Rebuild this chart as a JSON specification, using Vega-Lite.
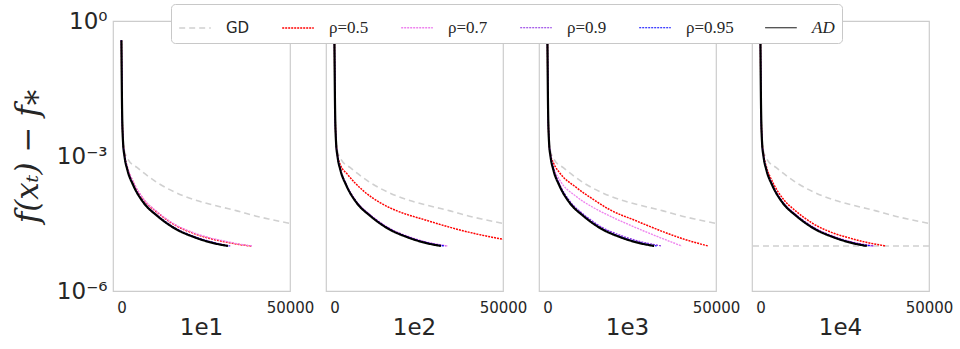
{
  "$schema": "https://vega.github.io/schema/vega-lite/v6.json",
  "padding": {"left": 12, "top": 3, "right": 5, "bottom": 5},
  "background": "white",
  "bounds": "flush",
  "datasets": {
    "d": [
      {"p":"1e1","s":"GD","x":0,"y":0.3715},{"p":"1e1","s":"GD","x":200,"y":0.01},{"p":"1e1","s":"GD","x":500,"y":0.0025},{"p":"1e1","s":"GD","x":800,"y":0.00141},{"p":"1e1","s":"GD","x":2000,"y":0.00083},{"p":"1e1","s":"GD","x":4700,"y":0.00055},{"p":"1e1","s":"GD","x":10600,"y":0.000257},{"p":"1e1","s":"GD","x":18500,"y":0.000129},{"p":"1e1","s":"GD","x":28400,"y":0.0000776},{"p":"1e1","s":"GD","x":34300,"y":0.0000603},{"p":"1e1","s":"GD","x":40000,"y":0.000046},{"p":"1e1","s":"GD","x":45000,"y":0.000038},{"p":"1e1","s":"GD","x":50000,"y":0.0000316},
      {"p":"1e1","s":"ρ=0.5","x":0,"y":0.3715},{"p":"1e1","s":"ρ=0.5","x":200,"y":0.01},{"p":"1e1","s":"ρ=0.5","x":500,"y":0.0021},{"p":"1e1","s":"ρ=0.5","x":900,"y":0.0011},{"p":"1e1","s":"ρ=0.5","x":1800,"y":0.00055},{"p":"1e1","s":"ρ=0.5","x":3500,"y":0.00026},{"p":"1e1","s":"ρ=0.5","x":6700,"y":0.000105},{"p":"1e1","s":"ρ=0.5","x":10600,"y":0.000056},{"p":"1e1","s":"ρ=0.5","x":15600,"y":0.00003},{"p":"1e1","s":"ρ=0.5","x":21500,"y":0.000019},{"p":"1e1","s":"ρ=0.5","x":26500,"y":0.0000145},{"p":"1e1","s":"ρ=0.5","x":31600,"y":0.000012},{"p":"1e1","s":"ρ=0.5","x":35000,"y":0.0000108},{"p":"1e1","s":"ρ=0.5","x":38500,"y":0.00001},
      {"p":"1e1","s":"ρ=0.7","x":0,"y":0.3715},{"p":"1e1","s":"ρ=0.7","x":200,"y":0.01},{"p":"1e1","s":"ρ=0.7","x":500,"y":0.00216},{"p":"1e1","s":"ρ=0.7","x":900,"y":0.00113},{"p":"1e1","s":"ρ=0.7","x":1800,"y":0.000567},{"p":"1e1","s":"ρ=0.7","x":3500,"y":0.000268},{"p":"1e1","s":"ρ=0.7","x":6700,"y":0.000108},{"p":"1e1","s":"ρ=0.7","x":10600,"y":0.0000577},{"p":"1e1","s":"ρ=0.7","x":15600,"y":0.0000309},{"p":"1e1","s":"ρ=0.7","x":21500,"y":0.0000196},{"p":"1e1","s":"ρ=0.7","x":26500,"y":0.000015},{"p":"1e1","s":"ρ=0.7","x":31600,"y":0.0000124},{"p":"1e1","s":"ρ=0.7","x":35000,"y":0.000011},{"p":"1e1","s":"ρ=0.7","x":38800,"y":0.00001},
      {"p":"1e1","s":"ρ=0.9","x":0,"y":0.3715},{"p":"1e1","s":"ρ=0.9","x":200,"y":0.01},{"p":"1e1","s":"ρ=0.9","x":500,"y":0.00198},{"p":"1e1","s":"ρ=0.9","x":900,"y":0.00104},{"p":"1e1","s":"ρ=0.9","x":1800,"y":0.0005},{"p":"1e1","s":"ρ=0.9","x":3500,"y":0.000233},{"p":"1e1","s":"ρ=0.9","x":6700,"y":0.0000926},{"p":"1e1","s":"ρ=0.9","x":10600,"y":0.0000487},{"p":"1e1","s":"ρ=0.9","x":15600,"y":0.0000261},{"p":"1e1","s":"ρ=0.9","x":21500,"y":0.0000164},{"p":"1e1","s":"ρ=0.9","x":26500,"y":0.0000125},{"p":"1e1","s":"ρ=0.9","x":32300,"y":0.00001},
      {"p":"1e1","s":"ρ=0.95","x":0,"y":0.3715},{"p":"1e1","s":"ρ=0.95","x":200,"y":0.01},{"p":"1e1","s":"ρ=0.95","x":500,"y":0.00193},{"p":"1e1","s":"ρ=0.95","x":900,"y":0.001015},{"p":"1e1","s":"ρ=0.95","x":1800,"y":0.000487},{"p":"1e1","s":"ρ=0.95","x":3500,"y":0.000227},{"p":"1e1","s":"ρ=0.95","x":6700,"y":0.0000903},{"p":"1e1","s":"ρ=0.95","x":10600,"y":0.0000475},{"p":"1e1","s":"ρ=0.95","x":15600,"y":0.0000255},{"p":"1e1","s":"ρ=0.95","x":21500,"y":0.000016},{"p":"1e1","s":"ρ=0.95","x":26500,"y":0.0000122},{"p":"1e1","s":"ρ=0.95","x":32000,"y":0.00001},
      {"p":"1e1","s":"AD","x":0,"y":0.3715},{"p":"1e1","s":"AD","x":200,"y":0.01},{"p":"1e1","s":"AD","x":500,"y":0.0019},{"p":"1e1","s":"AD","x":900,"y":0.001},{"p":"1e1","s":"AD","x":1800,"y":0.00048},{"p":"1e1","s":"AD","x":3500,"y":0.000224},{"p":"1e1","s":"AD","x":6700,"y":0.000089},{"p":"1e1","s":"AD","x":10600,"y":0.0000468},{"p":"1e1","s":"AD","x":15600,"y":0.0000251},{"p":"1e1","s":"AD","x":21500,"y":0.0000158},{"p":"1e1","s":"AD","x":26500,"y":0.000012},{"p":"1e1","s":"AD","x":31600,"y":0.00001},

      {"p":"1e2","s":"GD","x":0,"y":0.3715},{"p":"1e2","s":"GD","x":200,"y":0.01},{"p":"1e2","s":"GD","x":500,"y":0.0025},{"p":"1e2","s":"GD","x":800,"y":0.00141},{"p":"1e2","s":"GD","x":2000,"y":0.00083},{"p":"1e2","s":"GD","x":4700,"y":0.00055},{"p":"1e2","s":"GD","x":10600,"y":0.000257},{"p":"1e2","s":"GD","x":18500,"y":0.000129},{"p":"1e2","s":"GD","x":28400,"y":0.0000776},{"p":"1e2","s":"GD","x":34300,"y":0.0000603},{"p":"1e2","s":"GD","x":40000,"y":0.000046},{"p":"1e2","s":"GD","x":45000,"y":0.000038},{"p":"1e2","s":"GD","x":50000,"y":0.0000316},
      {"p":"1e2","s":"ρ=0.5","x":0,"y":0.3715},{"p":"1e2","s":"ρ=0.5","x":200,"y":0.01},{"p":"1e2","s":"ρ=0.5","x":500,"y":0.0021},{"p":"1e2","s":"ρ=0.5","x":800,"y":0.00117},{"p":"1e2","s":"ρ=0.5","x":1800,"y":0.00063},{"p":"1e2","s":"ρ=0.5","x":3760,"y":0.0004},{"p":"1e2","s":"ρ=0.5","x":8680,"y":0.000166},{"p":"1e2","s":"ρ=0.5","x":13600,"y":0.0000912},{"p":"1e2","s":"ρ=0.5","x":18550,"y":0.0000603},{"p":"1e2","s":"ρ=0.5","x":26450,"y":0.0000389},{"p":"1e2","s":"ρ=0.5","x":34300,"y":0.000026},{"p":"1e2","s":"ρ=0.5","x":42000,"y":0.0000186},{"p":"1e2","s":"ρ=0.5","x":50000,"y":0.0000141},
      {"p":"1e2","s":"ρ=0.7","x":0,"y":0.3715},{"p":"1e2","s":"ρ=0.7","x":200,"y":0.01},{"p":"1e2","s":"ρ=0.7","x":500,"y":0.002},{"p":"1e2","s":"ρ=0.7","x":900,"y":0.00106},{"p":"1e2","s":"ρ=0.7","x":1800,"y":0.000509},{"p":"1e2","s":"ρ=0.7","x":3500,"y":0.000237},{"p":"1e2","s":"ρ=0.7","x":6700,"y":0.0000943},{"p":"1e2","s":"ρ=0.7","x":10600,"y":0.0000496},{"p":"1e2","s":"ρ=0.7","x":15600,"y":0.0000266},{"p":"1e2","s":"ρ=0.7","x":21500,"y":0.0000167},{"p":"1e2","s":"ρ=0.7","x":26500,"y":0.0000127},{"p":"1e2","s":"ρ=0.7","x":33500,"y":0.00001},
      {"p":"1e2","s":"ρ=0.9","x":0,"y":0.3715},{"p":"1e2","s":"ρ=0.9","x":200,"y":0.01},{"p":"1e2","s":"ρ=0.9","x":500,"y":0.00198},{"p":"1e2","s":"ρ=0.9","x":900,"y":0.00104},{"p":"1e2","s":"ρ=0.9","x":1800,"y":0.0005},{"p":"1e2","s":"ρ=0.9","x":3500,"y":0.000233},{"p":"1e2","s":"ρ=0.9","x":6700,"y":0.0000926},{"p":"1e2","s":"ρ=0.9","x":10600,"y":0.0000487},{"p":"1e2","s":"ρ=0.9","x":15600,"y":0.0000261},{"p":"1e2","s":"ρ=0.9","x":21500,"y":0.0000164},{"p":"1e2","s":"ρ=0.9","x":26500,"y":0.0000125},{"p":"1e2","s":"ρ=0.9","x":33000,"y":0.00001},
      {"p":"1e2","s":"ρ=0.95","x":0,"y":0.3715},{"p":"1e2","s":"ρ=0.95","x":200,"y":0.01},{"p":"1e2","s":"ρ=0.95","x":500,"y":0.00193},{"p":"1e2","s":"ρ=0.95","x":900,"y":0.001015},{"p":"1e2","s":"ρ=0.95","x":1800,"y":0.000487},{"p":"1e2","s":"ρ=0.95","x":3500,"y":0.000227},{"p":"1e2","s":"ρ=0.95","x":6700,"y":0.0000903},{"p":"1e2","s":"ρ=0.95","x":10600,"y":0.0000475},{"p":"1e2","s":"ρ=0.95","x":15600,"y":0.0000255},{"p":"1e2","s":"ρ=0.95","x":21500,"y":0.000016},{"p":"1e2","s":"ρ=0.95","x":26500,"y":0.0000122},{"p":"1e2","s":"ρ=0.95","x":32500,"y":0.00001},
      {"p":"1e2","s":"AD","x":0,"y":0.3715},{"p":"1e2","s":"AD","x":200,"y":0.01},{"p":"1e2","s":"AD","x":500,"y":0.0019},{"p":"1e2","s":"AD","x":900,"y":0.001},{"p":"1e2","s":"AD","x":1800,"y":0.00048},{"p":"1e2","s":"AD","x":3500,"y":0.000224},{"p":"1e2","s":"AD","x":6700,"y":0.000089},{"p":"1e2","s":"AD","x":10600,"y":0.0000468},{"p":"1e2","s":"AD","x":15600,"y":0.0000251},{"p":"1e2","s":"AD","x":21500,"y":0.0000158},{"p":"1e2","s":"AD","x":26500,"y":0.000012},{"p":"1e2","s":"AD","x":31600,"y":0.00001},

      {"p":"1e3","s":"GD","x":0,"y":0.3715},{"p":"1e3","s":"GD","x":200,"y":0.01},{"p":"1e3","s":"GD","x":500,"y":0.0025},{"p":"1e3","s":"GD","x":800,"y":0.00141},{"p":"1e3","s":"GD","x":2000,"y":0.00083},{"p":"1e3","s":"GD","x":4700,"y":0.00055},{"p":"1e3","s":"GD","x":10600,"y":0.000257},{"p":"1e3","s":"GD","x":18500,"y":0.000129},{"p":"1e3","s":"GD","x":28400,"y":0.0000776},{"p":"1e3","s":"GD","x":34300,"y":0.0000603},{"p":"1e3","s":"GD","x":40000,"y":0.000046},{"p":"1e3","s":"GD","x":45000,"y":0.000038},{"p":"1e3","s":"GD","x":50000,"y":0.0000316},
      {"p":"1e3","s":"ρ=0.5","x":0,"y":0.3715},{"p":"1e3","s":"ρ=0.5","x":200,"y":0.01},{"p":"1e3","s":"ρ=0.5","x":500,"y":0.002},{"p":"1e3","s":"ρ=0.5","x":800,"y":0.00117},{"p":"1e3","s":"ρ=0.5","x":1800,"y":0.0007},{"p":"1e3","s":"ρ=0.5","x":3670,"y":0.00042},{"p":"1e3","s":"ρ=0.5","x":8550,"y":0.0002},{"p":"1e3","s":"ρ=0.5","x":13490,"y":0.00011},{"p":"1e3","s":"ρ=0.5","x":18420,"y":0.0000646},{"p":"1e3","s":"ρ=0.5","x":26300,"y":0.0000363},{"p":"1e3","s":"ρ=0.5","x":34200,"y":0.0000209},{"p":"1e3","s":"ρ=0.5","x":41000,"y":0.0000138},{"p":"1e3","s":"ρ=0.5","x":47700,"y":0.00001},
      {"p":"1e3","s":"ρ=0.7","x":0,"y":0.3715},{"p":"1e3","s":"ρ=0.7","x":200,"y":0.01},{"p":"1e3","s":"ρ=0.7","x":500,"y":0.0019},{"p":"1e3","s":"ρ=0.7","x":900,"y":0.00105},{"p":"1e3","s":"ρ=0.7","x":1800,"y":0.00056},{"p":"1e3","s":"ρ=0.7","x":3670,"y":0.00029},{"p":"1e3","s":"ρ=0.7","x":8550,"y":0.000126},{"p":"1e3","s":"ρ=0.7","x":13490,"y":0.0000724},{"p":"1e3","s":"ρ=0.7","x":18420,"y":0.0000468},{"p":"1e3","s":"ρ=0.7","x":24000,"y":0.0000302},{"p":"1e3","s":"ρ=0.7","x":30000,"y":0.0000195},{"p":"1e3","s":"ρ=0.7","x":35000,"y":0.0000138},{"p":"1e3","s":"ρ=0.7","x":39850,"y":0.00001},
      {"p":"1e3","s":"ρ=0.9","x":0,"y":0.3715},{"p":"1e3","s":"ρ=0.9","x":200,"y":0.01},{"p":"1e3","s":"ρ=0.9","x":500,"y":0.00209},{"p":"1e3","s":"ρ=0.9","x":900,"y":0.0011},{"p":"1e3","s":"ρ=0.9","x":1800,"y":0.000528},{"p":"1e3","s":"ρ=0.9","x":3500,"y":0.000246},{"p":"1e3","s":"ρ=0.9","x":6700,"y":0.000098},{"p":"1e3","s":"ρ=0.9","x":10600,"y":0.0000515},{"p":"1e3","s":"ρ=0.9","x":15600,"y":0.0000276},{"p":"1e3","s":"ρ=0.9","x":21500,"y":0.0000174},{"p":"1e3","s":"ρ=0.9","x":26500,"y":0.0000132},{"p":"1e3","s":"ρ=0.9","x":33900,"y":0.00001},
      {"p":"1e3","s":"ρ=0.95","x":0,"y":0.3715},{"p":"1e3","s":"ρ=0.95","x":200,"y":0.01},{"p":"1e3","s":"ρ=0.95","x":500,"y":0.00196},{"p":"1e3","s":"ρ=0.95","x":900,"y":0.00103},{"p":"1e3","s":"ρ=0.95","x":1800,"y":0.000494},{"p":"1e3","s":"ρ=0.95","x":3500,"y":0.000231},{"p":"1e3","s":"ρ=0.95","x":6700,"y":0.0000917},{"p":"1e3","s":"ρ=0.95","x":10600,"y":0.0000482},{"p":"1e3","s":"ρ=0.95","x":15600,"y":0.0000259},{"p":"1e3","s":"ρ=0.95","x":21500,"y":0.0000163},{"p":"1e3","s":"ρ=0.95","x":26500,"y":0.0000124},{"p":"1e3","s":"ρ=0.95","x":32400,"y":0.00001},
      {"p":"1e3","s":"AD","x":0,"y":0.3715},{"p":"1e3","s":"AD","x":200,"y":0.01},{"p":"1e3","s":"AD","x":500,"y":0.0019},{"p":"1e3","s":"AD","x":900,"y":0.001},{"p":"1e3","s":"AD","x":1800,"y":0.00048},{"p":"1e3","s":"AD","x":3500,"y":0.000224},{"p":"1e3","s":"AD","x":6700,"y":0.000089},{"p":"1e3","s":"AD","x":10600,"y":0.0000468},{"p":"1e3","s":"AD","x":15600,"y":0.0000251},{"p":"1e3","s":"AD","x":21500,"y":0.0000158},{"p":"1e3","s":"AD","x":26500,"y":0.000012},{"p":"1e3","s":"AD","x":31650,"y":0.00001},

      {"p":"1e4","s":"GD","x":0,"y":0.3715},{"p":"1e4","s":"GD","x":200,"y":0.01},{"p":"1e4","s":"GD","x":500,"y":0.0025},{"p":"1e4","s":"GD","x":800,"y":0.00141},{"p":"1e4","s":"GD","x":2000,"y":0.00083},{"p":"1e4","s":"GD","x":4700,"y":0.00055},{"p":"1e4","s":"GD","x":10600,"y":0.000257},{"p":"1e4","s":"GD","x":18500,"y":0.000129},{"p":"1e4","s":"GD","x":28400,"y":0.0000776},{"p":"1e4","s":"GD","x":34300,"y":0.0000603},{"p":"1e4","s":"GD","x":40000,"y":0.000046},{"p":"1e4","s":"GD","x":45000,"y":0.000038},{"p":"1e4","s":"GD","x":50000,"y":0.0000316},
      {"p":"1e4","s":"ρ=0.5","x":0,"y":0.3715},{"p":"1e4","s":"ρ=0.5","x":200,"y":0.01},{"p":"1e4","s":"ρ=0.5","x":500,"y":0.0021},{"p":"1e4","s":"ρ=0.5","x":900,"y":0.00112},{"p":"1e4","s":"ρ=0.5","x":1800,"y":0.00057},{"p":"1e4","s":"ρ=0.5","x":3500,"y":0.000275},{"p":"1e4","s":"ρ=0.5","x":6700,"y":0.000112},{"p":"1e4","s":"ρ=0.5","x":10600,"y":0.000059},{"p":"1e4","s":"ρ=0.5","x":15600,"y":0.0000315},{"p":"1e4","s":"ρ=0.5","x":21500,"y":0.0000195},{"p":"1e4","s":"ρ=0.5","x":26500,"y":0.000015},{"p":"1e4","s":"ρ=0.5","x":31600,"y":0.000012},{"p":"1e4","s":"ρ=0.5","x":37200,"y":0.00001},
      {"p":"1e4","s":"ρ=0.7","x":0,"y":0.3715},{"p":"1e4","s":"ρ=0.7","x":200,"y":0.01},{"p":"1e4","s":"ρ=0.7","x":500,"y":0.002},{"p":"1e4","s":"ρ=0.7","x":900,"y":0.00106},{"p":"1e4","s":"ρ=0.7","x":1800,"y":0.000509},{"p":"1e4","s":"ρ=0.7","x":3500,"y":0.000237},{"p":"1e4","s":"ρ=0.7","x":6700,"y":0.0000943},{"p":"1e4","s":"ρ=0.7","x":10600,"y":0.0000496},{"p":"1e4","s":"ρ=0.7","x":15600,"y":0.0000266},{"p":"1e4","s":"ρ=0.7","x":21500,"y":0.0000167},{"p":"1e4","s":"ρ=0.7","x":26500,"y":0.0000127},{"p":"1e4","s":"ρ=0.7","x":33800,"y":0.00001},
      {"p":"1e4","s":"ρ=0.9","x":0,"y":0.3715},{"p":"1e4","s":"ρ=0.9","x":200,"y":0.01},{"p":"1e4","s":"ρ=0.9","x":500,"y":0.00198},{"p":"1e4","s":"ρ=0.9","x":900,"y":0.00104},{"p":"1e4","s":"ρ=0.9","x":1800,"y":0.0005},{"p":"1e4","s":"ρ=0.9","x":3500,"y":0.000233},{"p":"1e4","s":"ρ=0.9","x":6700,"y":0.0000926},{"p":"1e4","s":"ρ=0.9","x":10600,"y":0.0000487},{"p":"1e4","s":"ρ=0.9","x":15600,"y":0.0000261},{"p":"1e4","s":"ρ=0.9","x":21500,"y":0.0000164},{"p":"1e4","s":"ρ=0.9","x":26500,"y":0.0000125},{"p":"1e4","s":"ρ=0.9","x":33500,"y":0.00001},
      {"p":"1e4","s":"ρ=0.95","x":0,"y":0.3715},{"p":"1e4","s":"ρ=0.95","x":200,"y":0.01},{"p":"1e4","s":"ρ=0.95","x":500,"y":0.00193},{"p":"1e4","s":"ρ=0.95","x":900,"y":0.001015},{"p":"1e4","s":"ρ=0.95","x":1800,"y":0.000487},{"p":"1e4","s":"ρ=0.95","x":3500,"y":0.000227},{"p":"1e4","s":"ρ=0.95","x":6700,"y":0.0000903},{"p":"1e4","s":"ρ=0.95","x":10600,"y":0.0000475},{"p":"1e4","s":"ρ=0.95","x":15600,"y":0.0000255},{"p":"1e4","s":"ρ=0.95","x":21500,"y":0.000016},{"p":"1e4","s":"ρ=0.95","x":26500,"y":0.0000122},{"p":"1e4","s":"ρ=0.95","x":32800,"y":0.00001},
      {"p":"1e4","s":"AD","x":0,"y":0.3715},{"p":"1e4","s":"AD","x":200,"y":0.01},{"p":"1e4","s":"AD","x":500,"y":0.0019},{"p":"1e4","s":"AD","x":900,"y":0.001},{"p":"1e4","s":"AD","x":1800,"y":0.00048},{"p":"1e4","s":"AD","x":3500,"y":0.000224},{"p":"1e4","s":"AD","x":6700,"y":0.000089},{"p":"1e4","s":"AD","x":10600,"y":0.0000468},{"p":"1e4","s":"AD","x":15600,"y":0.0000251},{"p":"1e4","s":"AD","x":21500,"y":0.0000158},{"p":"1e4","s":"AD","x":26500,"y":0.000012},{"p":"1e4","s":"AD","x":31550,"y":0.00001},
      {"p":"1e4","s":"tol","y":0.00001}
    ]
  },
  "data": {"name": "d"},
  "facet": {
    "column": {
      "field": "p", "type": "nominal", "sort": ["1e1","1e2","1e3","1e4"],
      "header": {"title": null, "labelOrient": "bottom", "labelFontSize": 23, "labelFont": "DejaVu Sans", "labelColor": "#262626", "labelPadding": 2}
    }
  },
  "spacing": 36,
  "spec": {
    "width": 177,
    "height": 270,
    "encoding": {
      "x": {"field": "x", "type": "quantitative",
            "scale": {"domain": [-2500, 50000], "nice": false, "zero": false},
            "axis": {"values": [0, 50000], "title": null, "labelFontSize": 15, "labelColor": "#262626", "labelFlush": false, "labelPadding": 9, "format": "d"}},
      "y": {"field": "y", "type": "quantitative",
            "scale": {"type": "log", "domain": [0.000001, 1], "nice": false},
            "axis": {"values": [0.000001, 0.001, 1],
                     "labelExpr": "datum.value > 0.5 ? '10⁰' : (datum.value > 0.0001 ? '10⁻³' : '10⁻⁶')",
                     "labelFontSize": 23, "labelColor": "#262626", "labelPadding": 6,
                     "title": "f(xₜ) − f⁎", "titleFont": "DejaVu Serif", "titleFontStyle": "italic", "titleFontWeight": "normal", "titleFontSize": 31, "titleColor": "#262626", "titlePadding": 12}},
      "color": {"field": "s", "type": "nominal", "title": null,
                "scale": {"domain": ["GD","ρ=0.5","ρ=0.7","ρ=0.9","ρ=0.95","AD"], "range": ["#d0d0d0","#ff0000","#ee82ee","#8a2be2","#0000ff","#000000"]},
                "legend": {"orient": "none", "legendX": 58, "legendY": -17, "direction": "horizontal", "columns": 6,
                           "fillColor": "white", "strokeColor": "#c8c8c8", "cornerRadius": 4, "padding": 7,
                           "symbolType": "stroke", "symbolSize": 1000, "columnPadding": 29, "labelOffset": 14,
                           "labelFontSize": 17, "labelFont": "Liberation Serif", "labelColor": "#262626",
                           "encode": {"labels": {"update": {"font": {"signal": "datum.label === 'GD' ? 'DejaVu Sans' : 'Liberation Serif'"}, "fontSize": {"signal": "datum.label === 'GD' ? 15 : 17"}, "fontStyle": {"signal": "datum.label === 'AD' ? 'italic' : 'normal'"}}}}}},
      "strokeDash": {"field": "s", "type": "nominal", "title": null,
                     "scale": {"domain": ["GD","ρ=0.5","ρ=0.7","ρ=0.9","ρ=0.95","AD"], "range": [[6,4],[2,1],[2,1],[2,1],[2,1],[1,0]]}},
      "strokeWidth": {"field": "s", "type": "ordinal", "title": null,
                      "scale": {"domain": ["GD","ρ=0.5","ρ=0.7","ρ=0.9","ρ=0.95","AD"], "range": [1.6,1,1,0.9,0.9,2.2]}}
    },
    "layer": [
      {
        "transform": [{"filter": "datum.s === 'tol'"}],
        "mark": {"type": "rule", "color": "#d0d0d0", "strokeDash": [6,4], "strokeWidth": 1.6},
        "encoding": {"x": null, "color": null, "strokeDash": null, "strokeWidth": null}
      },
      {
        "transform": [{"filter": "datum.s === 'GD'"}],
        "mark": {"type": "line", "clip": true, "interpolate": "monotone"}
      },
      {
        "transform": [{"filter": "datum.s === 'ρ=0.5'"}],
        "mark": {"type": "line", "clip": true, "interpolate": "monotone"}
      },
      {
        "transform": [{"filter": "datum.s === 'ρ=0.7'"}],
        "mark": {"type": "line", "clip": true, "interpolate": "monotone"}
      },
      {
        "transform": [{"filter": "datum.s === 'ρ=0.9'"}],
        "mark": {"type": "line", "clip": true, "interpolate": "monotone"}
      },
      {
        "transform": [{"filter": "datum.s === 'ρ=0.95'"}],
        "mark": {"type": "line", "clip": true, "interpolate": "monotone"}
      },
      {
        "transform": [{"filter": "datum.s === 'AD'"}],
        "mark": {"type": "line", "clip": true, "interpolate": "monotone", "zindex": 2, "color": "#000000", "strokeWidth": 2.2, "strokeDash": [1, 0]}
      }
    ]
  },
  "config": {
    "font": "DejaVu Sans",
    "view": {"stroke": "#cccccc", "strokeWidth": 1.2},
    "axis": {"grid": false, "domain": false, "ticks": false}
  }
}
